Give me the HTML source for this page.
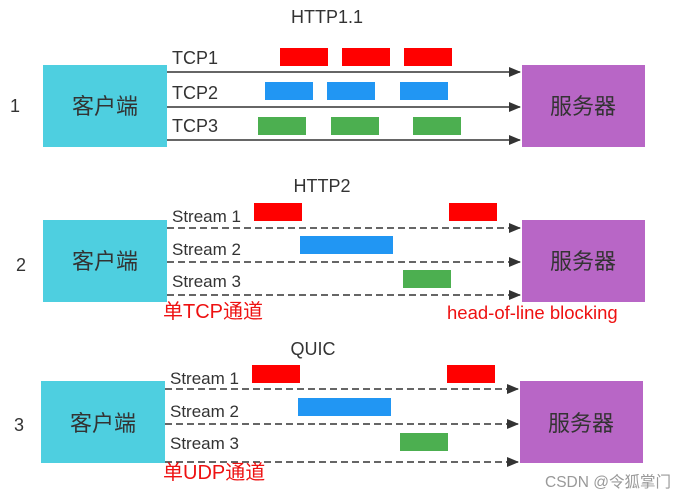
<!DOCTYPE html>
<html><head><meta charset="utf-8"><style>
html,body{margin:0;padding:0;background:#fff;}
svg{display:block;font-family:"Liberation Sans","Noto Sans CJK SC",sans-serif;}
</style></head><body>
<svg width="695" height="500" viewBox="0 0 695 500" xmlns="http://www.w3.org/2000/svg">
<defs>
<marker id="a" markerWidth="12" markerHeight="10" refX="11" refY="5" orient="auto" markerUnits="userSpaceOnUse">
<path d="M0,0 L12,5 L0,10 z" fill="#333"/></marker>
</defs>
<g fill="#333" font-size="18">
<text x="327" y="23" text-anchor="middle">HTTP1.1</text>
<text x="322" y="192" text-anchor="middle">HTTP2</text>
<text x="313" y="355" text-anchor="middle">QUIC</text>
<text x="10" y="112">1</text>
<text x="16" y="271">2</text>
<text x="14" y="431">3</text>
<text x="172" y="64">TCP1</text>
<text x="172" y="99">TCP2</text>
<text x="172" y="132">TCP3</text>
</g>
<g fill="#333" font-size="17">
<text x="172" y="222">Stream 1</text>
<text x="172" y="255">Stream 2</text>
<text x="172" y="287">Stream 3</text>
<text x="170" y="384">Stream 1</text>
<text x="170" y="417">Stream 2</text>
<text x="170" y="449">Stream 3</text>
</g>
<rect x="43" y="65" width="124" height="82" fill="#4ecfe0"/>
<rect x="522" y="65" width="123" height="82" fill="#b866c6"/>
<rect x="43" y="220" width="124" height="82" fill="#4ecfe0"/>
<rect x="522" y="220" width="123" height="82" fill="#b866c6"/>
<rect x="41" y="381" width="124" height="82" fill="#4ecfe0"/>
<rect x="520" y="381" width="123" height="82" fill="#b866c6"/>
<g font-size="22" fill="#333" text-anchor="middle">
<text x="105" y="114">客户端</text><text x="583" y="114">服务器</text>
<text x="105" y="269">客户端</text><text x="583" y="269">服务器</text>
<text x="103" y="431">客户端</text><text x="581" y="431">服务器</text>
</g>
<g stroke="#333" stroke-width="1.6" marker-end="url(#a)">
<line x1="167" y1="72" x2="520" y2="72"/>
<line x1="167" y1="107" x2="520" y2="107"/>
<line x1="167" y1="140" x2="520" y2="140"/>
</g>
<g stroke="#333" stroke-width="1.6" stroke-dasharray="7,4" marker-end="url(#a)">
<line x1="167" y1="228" x2="520" y2="228"/>
<line x1="167" y1="262" x2="520" y2="262"/>
<line x1="167" y1="295" x2="520" y2="295"/>
<line x1="165" y1="389" x2="518" y2="389"/>
<line x1="165" y1="424" x2="518" y2="424"/>
<line x1="165" y1="462" x2="518" y2="462"/>
</g>
<g fill="#ff0000">
<rect x="280" y="48" width="48" height="18"/><rect x="342" y="48" width="48" height="18"/><rect x="404" y="48" width="48" height="18"/>
<rect x="254" y="203" width="48" height="18"/><rect x="449" y="203" width="48" height="18"/>
<rect x="252" y="365" width="48" height="18"/><rect x="447" y="365" width="48" height="18"/>
</g>
<g fill="#2196f3">
<rect x="265" y="82" width="48" height="18"/><rect x="327" y="82" width="48" height="18"/><rect x="400" y="82" width="48" height="18"/>
<rect x="300" y="236" width="93" height="18"/>
<rect x="298" y="398" width="93" height="18"/>
</g>
<g fill="#4caf50">
<rect x="258" y="117" width="48" height="18"/><rect x="331" y="117" width="48" height="18"/><rect x="413" y="117" width="48" height="18"/>
<rect x="403" y="270" width="48" height="18"/>
<rect x="400" y="433" width="48" height="18"/>
</g>
<g fill="#ee1111" font-size="20">
<text x="163" y="318">单TCP通道</text>
<text x="163" y="479">单UDP通道</text>
<text x="447" y="319" font-size="18.5">head-of-line blocking</text>
</g>
<text x="545" y="487" font-size="15.5" fill="#999">CSDN @令狐掌门</text>
</svg>
</body></html>
